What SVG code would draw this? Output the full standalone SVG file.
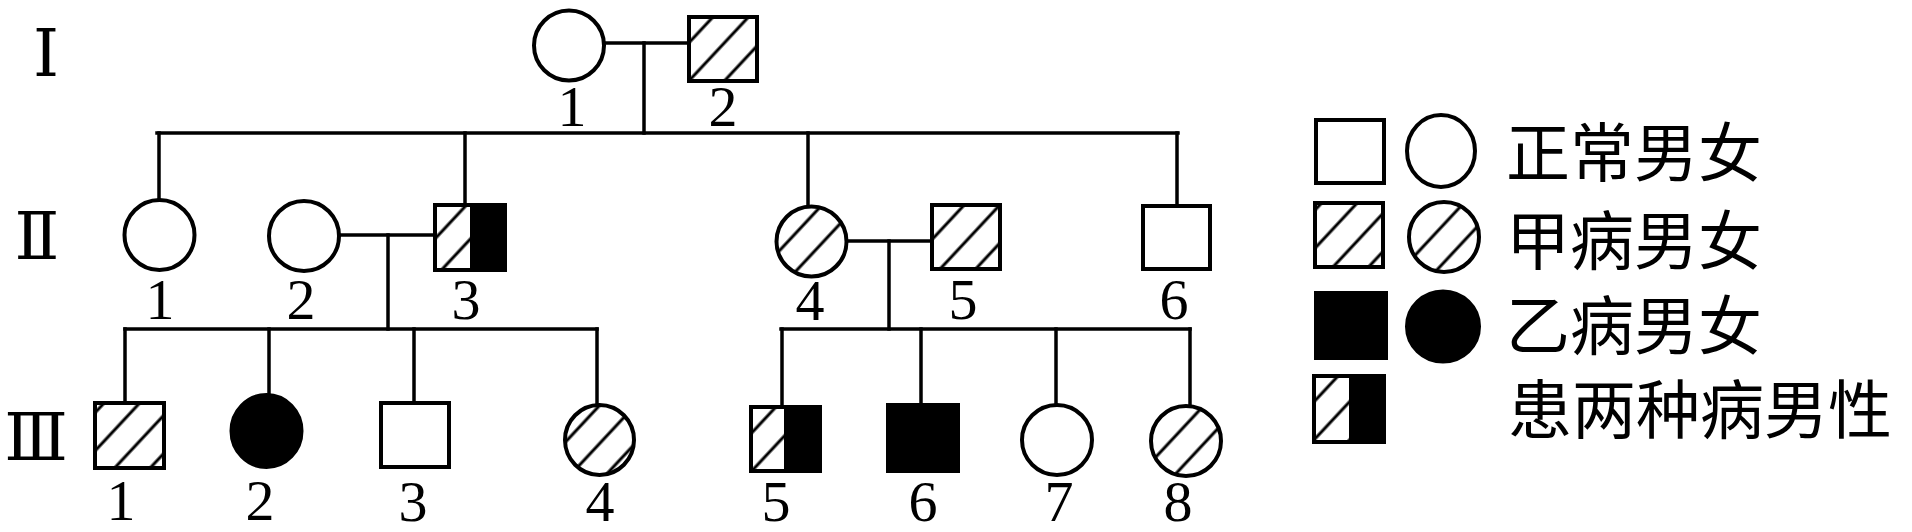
<svg xmlns="http://www.w3.org/2000/svg" width="1912" height="532" viewBox="0 0 1912 532">
<style>
.ln{stroke:#000;stroke-width:3.5;fill:none;stroke-linecap:square}
.sh{stroke:#000;stroke-width:4;fill:#fff}
.hb{stroke:#000;stroke-width:4;fill:url(#hatch)}
.bk{stroke:#000;stroke-width:4;fill:#000}
.num{font-family:"Liberation Serif",serif;font-size:58px;text-anchor:middle;fill:#000}
.gen{font-family:"DejaVu Serif","Liberation Serif",serif;font-size:66px;text-anchor:middle;fill:#000}
.lg{font-family:"Noto Sans CJK SC",sans-serif;font-size:64px;fill:#000}
</style>
<defs>
<pattern id="hatch" patternUnits="userSpaceOnUse" width="26" height="26" patternTransform="rotate(43)">
<rect width="26" height="26" fill="#fff"/>
<line x1="13" y1="-5" x2="13" y2="31" stroke="#000" stroke-width="3"/>
</pattern>
</defs>
<rect width="1912" height="532" fill="#fff"/>
<g id="generations">
<text class="gen" x="46" y="76">Ⅰ</text>
<text class="gen" x="37" y="259">Ⅱ</text>
<text class="gen" x="36" y="460">Ⅲ</text>
</g>
<g id="connectors">
<line class="ln" x1="605" y1="43" x2="689" y2="43"/>
<line class="ln" x1="644" y1="43" x2="644" y2="133"/>
<line class="ln" x1="157" y1="133" x2="1178" y2="133"/>
<line class="ln" x1="159" y1="133" x2="159" y2="200"/>
<line class="ln" x1="465" y1="133" x2="465" y2="205"/>
<line class="ln" x1="808" y1="133" x2="808" y2="206"/>
<line class="ln" x1="1177" y1="133" x2="1177" y2="206"/>
<line class="ln" x1="339" y1="235" x2="435" y2="235"/>
<line class="ln" x1="388" y1="235" x2="388" y2="329"/>
<line class="ln" x1="125" y1="329" x2="597" y2="329"/>
<line class="ln" x1="125" y1="329" x2="125" y2="403"/>
<line class="ln" x1="269" y1="329" x2="269" y2="395"/>
<line class="ln" x1="414" y1="329" x2="414" y2="403"/>
<line class="ln" x1="597" y1="329" x2="597" y2="405"/>
<line class="ln" x1="847" y1="241" x2="932" y2="241"/>
<line class="ln" x1="889" y1="241" x2="889" y2="329"/>
<line class="ln" x1="781" y1="329" x2="1190" y2="329"/>
<line class="ln" x1="782" y1="329" x2="782" y2="407"/>
<line class="ln" x1="921" y1="329" x2="921" y2="405"/>
<line class="ln" x1="1056" y1="329" x2="1056" y2="405"/>
<line class="ln" x1="1190" y1="329" x2="1190" y2="407"/>
</g>
<g id="I-1"><ellipse class="sh" cx="569" cy="45.5" rx="35" ry="35"/><text class="num" x="572" y="126">1</text></g>
<g id="I-2"><rect class="hb" x="689" y="17" width="68" height="64"/><text class="num" x="723" y="126">2</text></g>
<g id="II-1"><ellipse class="sh" cx="159.5" cy="235" rx="35" ry="35"/><text class="num" x="160" y="319">1</text></g>
<g id="II-2"><ellipse class="sh" cx="304" cy="236" rx="35" ry="35"/><text class="num" x="301" y="319">2</text></g>
<g id="II-3"><rect x="435" y="205" width="35" height="65" fill="url(#hatch)"/><rect x="470" y="205" width="35" height="65" fill="#000"/><rect x="435" y="205" width="70" height="65" fill="none" stroke="#000" stroke-width="4"/><text class="num" x="466" y="319">3</text></g>
<g id="II-4"><ellipse class="hb" cx="811.5" cy="241.5" rx="35" ry="35"/><text class="num" x="810" y="320">4</text></g>
<g id="II-5"><rect class="hb" x="932" y="205" width="68" height="64"/><text class="num" x="963" y="319">5</text></g>
<g id="II-6"><rect class="sh" x="1143" y="206" width="67" height="63"/><text class="num" x="1174" y="319">6</text></g>
<g id="III-1"><rect class="hb" x="95" y="403" width="69" height="65"/><text class="num" x="121" y="520">1</text></g>
<g id="III-2"><ellipse class="bk" cx="266.5" cy="431" rx="35" ry="36"/><text class="num" x="260" y="520">2</text></g>
<g id="III-3"><rect class="sh" x="381" y="403" width="68" height="64"/><text class="num" x="413" y="521">3</text></g>
<g id="III-4"><ellipse class="hb" cx="599.5" cy="440" rx="34.5" ry="35"/><text class="num" x="600" y="521">4</text></g>
<g id="III-5"><rect x="751" y="407" width="33" height="64" fill="url(#hatch)"/><rect x="784" y="407" width="36" height="64" fill="#000"/><rect x="751" y="407" width="69" height="64" fill="none" stroke="#000" stroke-width="4"/><text class="num" x="776" y="521">5</text></g>
<g id="III-6"><rect class="bk" x="888" y="405" width="70" height="66"/><text class="num" x="923" y="521">6</text></g>
<g id="III-7"><ellipse class="sh" cx="1057" cy="440" rx="35" ry="35"/><text class="num" x="1059" y="521">7</text></g>
<g id="III-8"><ellipse class="hb" cx="1186" cy="441" rx="35" ry="35"/><text class="num" x="1178" y="521">8</text></g>
<g id="legend">
<rect class="sh" x="1316" y="120" width="68" height="63"/>
<ellipse class="sh" cx="1441" cy="151" rx="34" ry="36"/>
<text class="lg" x="1506" y="176">正常男女</text>
<rect class="hb" x="1315" y="203" width="68" height="64"/>
<ellipse class="hb" cx="1444" cy="237" rx="35" ry="35"/>
<text class="lg" x="1506" y="264">甲病男女</text>
<rect class="bk" x="1316" y="293" width="70" height="65"/>
<ellipse class="bk" cx="1443" cy="326.5" rx="36" ry="35"/>
<text class="lg" x="1506" y="349">乙病男女</text>
<rect x="1314" y="376" width="35" height="66" fill="url(#hatch)"/>
<rect x="1349" y="376" width="35" height="66" fill="#000"/>
<rect x="1314" y="376" width="70" height="66" fill="none" stroke="#000" stroke-width="4"/>
<text class="lg" x="1508" y="433">患两种病男性</text>
</g>
</svg>
